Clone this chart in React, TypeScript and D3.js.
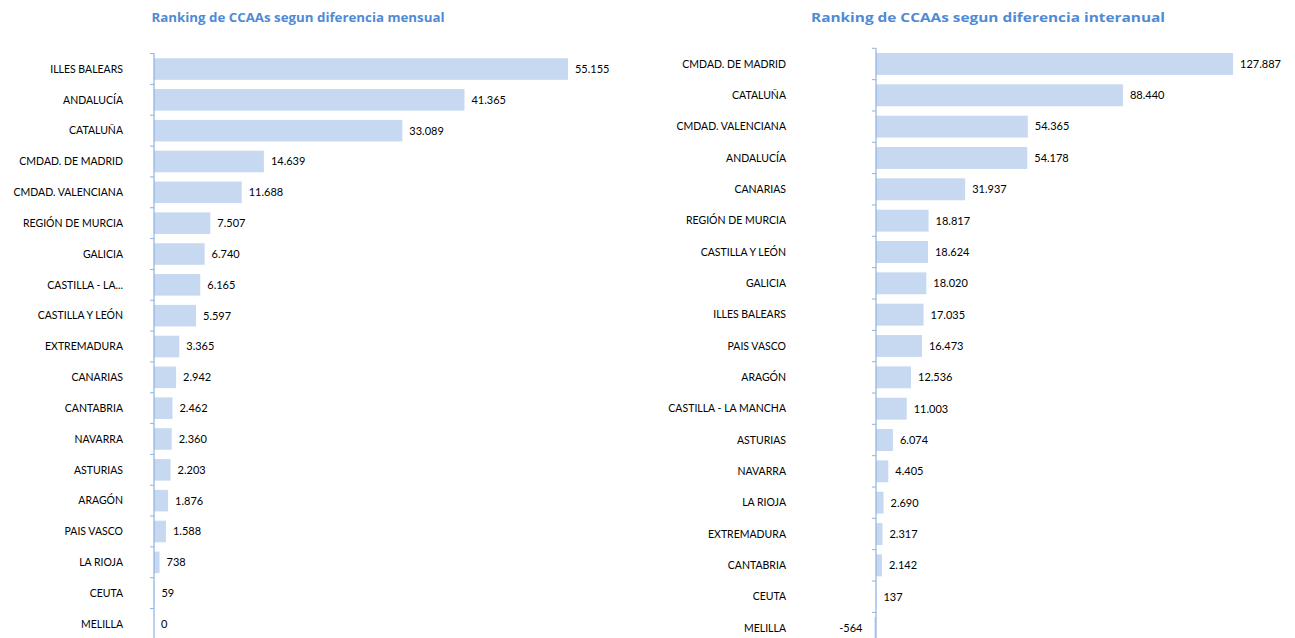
import React from "react";
import * as d3 from "d3";

const leftCategories = [
  "ILLES BALEARS", "ANDALUCÍA", "CATALUÑA", "CMDAD. DE MADRID", "CMDAD. VALENCIANA",
  "REGIÓN DE MURCIA", "GALICIA", "CASTILLA - LA...", "CASTILLA Y LEÓN", "EXTREMADURA",
  "CANARIAS", "CANTABRIA", "NAVARRA", "ASTURIAS", "ARAGÓN", "PAIS VASCO", "LA RIOJA",
  "CEUTA", "MELILLA",
];
const leftValues = [
  55155, 41365, 33089, 14639, 11688, 7507, 6740, 6165, 5597, 3365, 2942, 2462, 2360,
  2203, 1876, 1588, 738, 59, 0,
];

const rightCategories = [
  "CMDAD. DE MADRID", "CATALUÑA", "CMDAD. VALENCIANA", "ANDALUCÍA", "CANARIAS",
  "REGIÓN DE MURCIA", "CASTILLA Y LEÓN", "GALICIA", "ILLES BALEARS", "PAIS VASCO",
  "ARAGÓN", "CASTILLA - LA MANCHA", "ASTURIAS", "NAVARRA", "LA RIOJA", "EXTREMADURA",
  "CANTABRIA", "CEUTA", "MELILLA",
];
const rightValues = [
  127887, 88440, 54365, 54178, 31937, 18817, 18624, 18020, 17035, 16473, 12536, 11003,
  6074, 4405, 2690, 2317, 2142, 137, -564,
];

const leftTitle = "Ranking de CCAAs segun diferencia mensual";
const rightTitle = "Ranking de CCAAs segun diferencia interanual";

const locale = d3.formatLocale({ decimal: ",", thousands: ".", grouping: [3], currency: ["", "€"], minus: "-" });
const fmt = locale.format(",d");

const BAR = "#c6d9f1";
const AXIS = "#8db3e2";
const TITLE = "#4f8ad6";
const FONT = "Lato, 'Open Sans', sans-serif";
const TITLE_FONT = "'Open Sans', Lato, sans-serif";

type PanelProps = {
  title: string;
  titleX: number;
  titleW: number;
  categories: string[];
  values: number[];
  axisX: number;
  domainMax: number;
  rangeMax: number;
  yTop: number;
  yBottom: number;
  labelRight: number;
};

function Panel(p: PanelProps) {
  const y = d3.scaleBand<string>().domain(p.categories).range([p.yTop, p.yBottom]).paddingInner(0.3).paddingOuter(0.15);
  const x = d3.scaleLinear().domain([0, p.domainMax]).range([p.axisX, p.rangeMax]);
  const step = y.step();
  const boundaries = d3.range(p.categories.length + 1).map((i) => p.yTop + i * step);
  return (
    <g>
      <text x={p.titleX} y={21.5} textAnchor="middle" fontFamily={TITLE_FONT} fontWeight="bold" fontSize={13}
        fill={TITLE} textLength={p.titleW} lengthAdjust="spacingAndGlyphs">{p.title}</text>
      {p.categories.map((c, i) => {
        const v = p.values[i];
        const y0 = y(c)!;
        const x0 = Math.min(x(0), x(v));
        const w = Math.abs(x(v) - x(0));
        const cy = y0 + y.bandwidth() / 2;
        return (
          <g key={c}>
            <rect x={x0} y={y0} width={w} height={y.bandwidth()} fill={BAR} />
            <text x={p.labelRight} y={cy} dy="0.35em" textAnchor="end" fontFamily={FONT} fontSize={10.5} fill="#000">{c}</text>
            <text x={v < 0 ? x(v) - 12 : x(v) + 7} y={cy} dy="0.35em" textAnchor={v < 0 ? "end" : "start"}
              fontFamily={FONT} fontSize={11} fill="#000">{fmt(v)}</text>
          </g>
        );
      })}
      <line x1={p.axisX} x2={p.axisX} y1={p.yTop} y2={p.yBottom} stroke={AXIS} strokeWidth={1.2} />
      {boundaries.map((b, i) => (
        <line key={i} x1={p.axisX - 4} x2={p.axisX} y1={b} y2={b} stroke={AXIS} strokeWidth={1} />
      ))}
    </g>
  );
}

export default function App() {
  return (
    <svg width={1295} height={638} style={{ position: "absolute", left: 0, top: 0, background: "#fff" }}>
      <rect width={1295} height={638} fill="#fff" />
      <Panel title={leftTitle} titleX={298} titleW={293} categories={leftCategories} values={leftValues}
        axisX={154} domainMax={60000} rangeMax={154 + 60000 * 0.007506} yTop={53.6} yBottom={639.4} labelRight={123} />
      <Panel title={rightTitle} titleX={988} titleW={354} categories={rightCategories} values={rightValues}
        axisX={876} domainMax={140000} rangeMax={876 + 140000 * 0.002792} yTop={48.3} yBottom={643.7} labelRight={786} />
    </svg>
  );
}
